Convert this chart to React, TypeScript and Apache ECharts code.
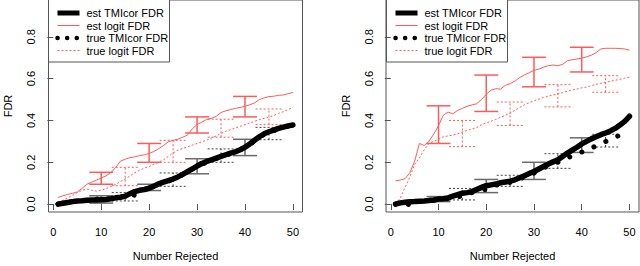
import React, { useEffect, useRef } from "react";
import * as echarts from "echarts";

// x values: number rejected 1..50
const rejected: number[] = Array.from({ length: 50 }, (_, i) => i + 1);

// ---- Left panel ----
const leftEstTMIcor = [
  0.0, 0.004, 0.008, 0.012, 0.015, 0.016, 0.018, 0.02, 0.02, 0.021,
  0.022, 0.025, 0.03, 0.033, 0.038, 0.05, 0.06, 0.066, 0.07, 0.076,
  0.086, 0.097, 0.105, 0.112, 0.12, 0.13, 0.142, 0.155, 0.168, 0.182,
  0.194, 0.204, 0.212, 0.22, 0.228, 0.236, 0.244, 0.25, 0.26, 0.272,
  0.288, 0.305, 0.322, 0.336, 0.346, 0.354, 0.362, 0.368, 0.374, 0.378,
];
const leftTrueTMIcor = [
  0.0, 0.004, 0.01, 0.012, 0.016, 0.016, 0.02, 0.02, 0.022, 0.035,
  0.024, 0.026, 0.03, 0.034, 0.036, 0.048, 0.042, 0.066, 0.07, 0.078,
  0.086, 0.096, 0.104, 0.11, 0.118, 0.128, 0.14, 0.145, 0.168, 0.18,
  0.19, 0.2, 0.21, 0.218, 0.226, 0.234, 0.242, 0.25, 0.26, 0.27,
  0.286, 0.302, 0.32, 0.334, 0.344, 0.352, 0.36, 0.366, 0.372, 0.376,
];
const leftEstLogit = [
  0.032, 0.04, 0.046, 0.052, 0.058, 0.075, 0.095, 0.105, 0.115, 0.125,
  0.135, 0.15, 0.175, 0.205, 0.215, 0.222, 0.226, 0.232, 0.236, 0.242,
  0.252, 0.265, 0.28, 0.298, 0.305, 0.31, 0.32, 0.33, 0.36, 0.38,
  0.392, 0.405, 0.41, 0.42, 0.438, 0.446, 0.452, 0.458, 0.462, 0.468,
  0.475, 0.484, 0.5, 0.508, 0.514, 0.516, 0.52, 0.522, 0.528, 0.534,
];
const leftTrueLogit = [
  0.008, 0.018, 0.03, 0.042, 0.055, 0.066, 0.072, 0.066, 0.062, 0.066,
  0.074, 0.084, 0.094, 0.108, 0.12, 0.135, 0.15, 0.162, 0.172, 0.18,
  0.19, 0.2, 0.212, 0.228, 0.245, 0.258, 0.266, 0.274, 0.282, 0.29,
  0.298, 0.306, 0.316, 0.326, 0.338, 0.348, 0.356, 0.364, 0.372, 0.38,
  0.388, 0.396, 0.404, 0.41, 0.416, 0.424, 0.434, 0.442, 0.452, 0.462,
];

// ---- Right panel ----
const rightEstTMIcor = [
  0.0, 0.006, 0.009, 0.011, 0.012, 0.014, 0.015, 0.017, 0.02, 0.024,
  0.026, 0.03, 0.038, 0.045, 0.052, 0.055, 0.06, 0.07, 0.08, 0.088,
  0.092, 0.096, 0.102, 0.106, 0.11, 0.116, 0.126, 0.136, 0.146, 0.156,
  0.168, 0.18, 0.192, 0.202, 0.212, 0.228, 0.244, 0.258, 0.272, 0.288,
  0.3, 0.312, 0.322, 0.332, 0.34, 0.35, 0.362, 0.378, 0.396, 0.42,
];
const rightTrueTMIcor = [
  0.0, 0.004, 0.004, -0.004, 0.008, 0.012, 0.014, 0.016, 0.018, 0.02,
  0.022, 0.026, 0.03, 0.032, 0.042, 0.05, 0.055, 0.06, 0.065, 0.072,
  0.084, 0.09, 0.096, 0.1, 0.104, 0.11, 0.12, 0.13, 0.134, 0.148,
  0.16, 0.172, 0.184, 0.194, 0.2, 0.212, 0.222, 0.23, 0.24, 0.249,
  0.258, 0.268, 0.278, 0.288, 0.299, 0.31, 0.32, 0.33, 0.34, 0.35,
];
const rightEstLogit = [
  0.112, 0.115, 0.122, 0.15, 0.205, 0.29, 0.28, 0.3, 0.335, 0.375,
  0.425, 0.44, 0.432, 0.448, 0.458, 0.468, 0.474, 0.48, 0.5, 0.525,
  0.545, 0.552, 0.55, 0.568, 0.576, 0.588, 0.605, 0.618, 0.628, 0.64,
  0.645, 0.655, 0.662, 0.665, 0.662, 0.668, 0.686, 0.69, 0.694, 0.698,
  0.704, 0.712, 0.724, 0.742, 0.745, 0.745, 0.745, 0.744, 0.742, 0.736,
];
const rightTrueLogit = [
  0.0, 0.03, 0.08, 0.13, 0.19, 0.22, 0.26, 0.29, 0.3, 0.31,
  0.322, 0.326, 0.33, 0.336, 0.345, 0.352, 0.36, 0.366, 0.38, 0.388,
  0.396, 0.405, 0.415, 0.425, 0.435, 0.448, 0.462, 0.475, 0.485, 0.494,
  0.502, 0.51, 0.516, 0.522, 0.527, 0.533, 0.54, 0.546, 0.55, 0.556,
  0.56, 0.566, 0.573, 0.578, 0.582, 0.587, 0.592, 0.597, 0.602, 0.607,
];

// ---- Error bars (centre x, low, high) ----
const estBarX = [10, 20, 30, 40];
const trueBarX = [15, 25, 35, 45];

const leftEstLogitLo = [0.095, 0.2, 0.34, 0.417];
const leftEstLogitHi = [0.152, 0.29, 0.417, 0.515];
const leftTrueLogitLo = [0.088, 0.2, 0.32, 0.38];
const leftTrueLogitHi = [0.176, 0.305, 0.406, 0.455];
const leftEstTMIcorLo = [0.005, 0.065, 0.145, 0.232];
const leftEstTMIcorHi = [0.04, 0.095, 0.217, 0.31];
const leftTrueTMIcorLo = [0.015, 0.085, 0.2, 0.308];
const leftTrueTMIcorHi = [0.055, 0.149, 0.264, 0.367];

const rightEstLogitLo = [0.29, 0.443, 0.561, 0.632];
const rightEstLogitHi = [0.47, 0.617, 0.702, 0.75];
const rightTrueLogitLo = [0.275, 0.376, 0.465, 0.535];
const rightTrueLogitHi = [0.4, 0.488, 0.571, 0.614];
const rightEstTMIcorLo = [0.012, 0.055, 0.118, 0.247];
const rightEstTMIcorHi = [0.036, 0.118, 0.2, 0.317];
const rightTrueTMIcorLo = [0.02, 0.085, 0.171, 0.273];
const rightTrueTMIcorHi = [0.075, 0.138, 0.241, 0.334];

const xTicks = [0, 10, 20, 30, 40, 50];
const yTicks = [0, 0.2, 0.4, 0.6, 0.8];
const legendLabels = ["est TMIcor FDR", "est logit FDR", "true TMIcor FDR", "true logit FDR"];
const xTitle = "Number Rejected";
const yTitle = "FDR";

const FONT = "'Liberation Sans', Arial, Helvetica, sans-serif";
const RED = "#ff5a5a";
const GREY = "#6a6a6a";
const BOX = "#555555";

const pairs = (ys: number[]) => rejected.map((x, i) => [x, ys[i]]);
const bars = (xs: number[], lo: number[], hi: number[]) => xs.map((x, i) => [x, lo[i], hi[i]]);

function barSeries(gridIdx: number, data: number[][], color: string, width: number, dash: number[] | null, half: number, z: number) {
  return {
    type: "custom",
    xAxisIndex: gridIdx,
    yAxisIndex: gridIdx,
    clip: false,
    z,
    encode: { x: 0, y: [1, 2] },
    data,
    renderItem: (params: any, api: any) => {
      const x = api.value(0);
      const lo = api.value(1);
      const hi = api.value(2);
      const a = api.coord([x, lo]);
      const b = api.coord([x, hi]);
      const l1 = api.coord([x - half, lo]);
      const r1 = api.coord([x + half, lo]);
      const l2 = api.coord([x - half, hi]);
      const r2 = api.coord([x + half, hi]);
      const style: any = { stroke: color, lineWidth: width, fill: null };
      if (dash) style.lineDash = dash;
      return {
        type: "group",
        children: [
          { type: "line", shape: { x1: a[0], y1: a[1], x2: b[0], y2: b[1] }, style },
          { type: "line", shape: { x1: l1[0], y1: l1[1], x2: r1[0], y2: r1[1] }, style },
          { type: "line", shape: { x1: l2[0], y1: l2[1], x2: r2[0], y2: r2[1] }, style },
        ],
      };
    },
  };
}

function lineSeries(gridIdx: number, name: string, ys: number[], style: any, z: number) {
  return {
    type: "line",
    name,
    xAxisIndex: gridIdx,
    yAxisIndex: gridIdx,
    data: pairs(ys),
    showSymbol: false,
    symbol: "none",
    z,
    lineStyle: style,
  };
}

const estTmiStyle = { color: "#000", width: 5.5, cap: "round", join: "round" };
const estLogitStyle = { color: RED, width: 1 };
const trueTmiStyle = { color: "#000", width: 5, type: [0.1, 13], cap: "round", join: "round" };
const trueLogitStyle = { color: RED, width: 1, type: [2, 2] };

function axesFor(gridIdx: number) {
  const label = { fontFamily: FONT, fontSize: 11, color: "#000" };
  return {
    x: {
      type: "value",
      gridIndex: gridIdx,
      min: -1,
      max: 52,
      axisLine: { show: false },
      splitLine: { show: false },
      axisTick: { show: true, length: 6, customValues: xTicks, lineStyle: { color: BOX } },
      axisLabel: { ...label, margin: 14, customValues: xTicks, formatter: (v: number) => String(v) },
      name: xTitle,
      nameLocation: "middle",
      nameGap: 38,
      nameTextStyle: { ...label },
    },
    y: {
      type: "value",
      gridIndex: gridIdx,
      min: -0.0377,
      max: 0.976,
      axisLine: { show: false },
      splitLine: { show: false },
      axisTick: { show: true, length: 6, customValues: yTicks, lineStyle: { color: BOX } },
      axisLabel: { ...label, margin: 12, rotate: 90, customValues: yTicks, formatter: (v: number) => v.toFixed(1) },
      name: yTitle,
      nameLocation: "middle",
      nameGap: 35,
      nameRotate: 90,
      nameTextStyle: { ...label },
    },
  };
}

function legendGraphic(left: number) {
  const rows = [13, 25.5, 38, 50.5];
  const styles = [
    { stroke: "#000", lineWidth: 5, lineCap: "butt" },
    { stroke: RED, lineWidth: 1 },
    { stroke: "#000", lineWidth: 4.5, lineDash: [0.1, 9.5], lineCap: "round" },
    { stroke: RED, lineWidth: 1, lineDash: [2, 2] },
  ];
  const children: any[] = [
    { type: "rect", shape: { x: left, y: -10, width: 121, height: 72 }, style: { fill: "#fff", stroke: BOX, lineWidth: 1 } },
  ];
  legendLabels.forEach((t, i) => {
    children.push({
      type: "line",
      shape: { x1: left + 9, y1: rows[i], x2: left + 31, y2: rows[i] },
      style: styles[i],
    });
    children.push({
      type: "text",
      x: left + 38,
      y: rows[i],
      style: { text: t, fill: "#000", font: `11px ${FONT}`, verticalAlign: "middle" },
    });
  });
  return { type: "group", z: 100, children };
}

export default function App() {
  const ref = useRef<HTMLDivElement>(null);
  useEffect(() => {
    if (!ref.current) return;
    const chart = echarts.init(ref.current, undefined, { renderer: "svg" });
    const a0 = axesFor(0);
    const a1 = axesFor(1);
    const option: any = {
      animation: false,
      backgroundColor: "#fff",
      grid: [
        { left: 48.5, top: -8, width: 254, height: 223, show: true, borderColor: BOX, borderWidth: 1, backgroundColor: "transparent", containLabel: false },
        { left: 386, top: -8, width: 253, height: 223, show: true, borderColor: BOX, borderWidth: 1, backgroundColor: "transparent", containLabel: false },
      ],
      xAxis: [a0.x, a1.x],
      yAxis: [a0.y, a1.y],
      graphic: [legendGraphic(48.5), legendGraphic(386.5)],
      series: [
        // left panel
        barSeries(0, bars(trueBarX, leftTrueLogitLo, leftTrueLogitHi), RED, 1, [2, 2], 2.8, 2),
        barSeries(0, bars(trueBarX, leftTrueTMIcorLo, leftTrueTMIcorHi), "#444", 1, [2, 2], 2.8, 2),
        barSeries(0, bars(estBarX, leftEstTMIcorLo, leftEstTMIcorHi), GREY, 1.5, null, 2.5, 2),
        lineSeries(0, legendLabels[3], leftTrueLogit, trueLogitStyle, 3),
        lineSeries(0, legendLabels[1], leftEstLogit, estLogitStyle, 3),
        lineSeries(0, legendLabels[0], leftEstTMIcor, estTmiStyle, 4),
        lineSeries(0, legendLabels[2], leftTrueTMIcor, trueTmiStyle, 5),
        barSeries(0, bars(estBarX, leftEstLogitLo, leftEstLogitHi), RED, 1.5, null, 2.5, 6),
        // right panel
        barSeries(1, bars(trueBarX, rightTrueLogitLo, rightTrueLogitHi), RED, 1, [2, 2], 2.8, 2),
        barSeries(1, bars(trueBarX, rightTrueTMIcorLo, rightTrueTMIcorHi), "#444", 1, [2, 2], 2.8, 2),
        barSeries(1, bars(estBarX, rightEstTMIcorLo, rightEstTMIcorHi), GREY, 1.5, null, 2.5, 2),
        lineSeries(1, legendLabels[3], rightTrueLogit, trueLogitStyle, 3),
        lineSeries(1, legendLabels[1], rightEstLogit, estLogitStyle, 3),
        lineSeries(1, legendLabels[0], rightEstTMIcor, estTmiStyle, 4),
        lineSeries(1, legendLabels[2], rightTrueTMIcor, trueTmiStyle, 5),
        barSeries(1, bars(estBarX, rightEstLogitLo, rightEstLogitHi), RED, 1.5, null, 2.5, 6),
      ],
    };
    chart.setOption(option);
    return () => chart.dispose();
  }, []);
  return (
    <div
      ref={ref}
      style={{ position: "fixed", left: 0, top: 0, width: 640, height: 266, background: "#fff" }}
    />
  );
}
